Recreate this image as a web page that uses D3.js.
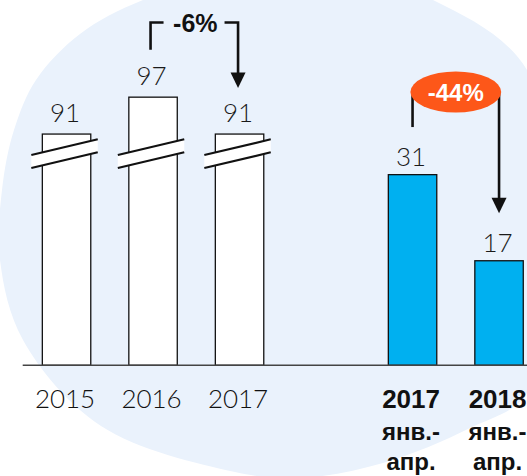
<!DOCTYPE html>
<html>
<head>
<meta charset="utf-8">
<script src="https://cdn.jsdelivr.net/npm/d3@7"></script>
<style>
  html, body { margin: 0; padding: 0; background: #ffffff; }
  svg { display: block; }
</style>
</head>
<body>
<svg id="chart" width="527" height="476"></svg>
<script>
// ---- data ----
const categories = ["2015", "2016", "2017", "2017 янв.-апр.", "2018 янв.-апр."];
const values = [91, 97, 91, 31, 17];
const isBroken = [true, true, true, false, false];
const isPartial = [false, false, false, true, true];
const labelLines = [["2015"], ["2016"], ["2017"], ["2017", "янв.-", "апр."], ["2018", "янв.-", "апр."]];
const changeFrom = ["2016", "2017 янв.-апр."];
const changeTo = ["2017", "2018 янв.-апр."];
const changeLabels = ["-6%", "-44%"];
const breakValue = 53.4; // value hidden by the axis break on the annual bars

// ---- layout ----
const W = 527, H = 476;
const baseY = 365.3;
const svg = d3.select("#chart");

const bandDomain = ["2015", "2016", "2017", "__gap", "2017 янв.-апр.", "2018 янв.-апр."];
const x = d3.scaleBand().domain(bandDomain).range([23.3, 542.3]).paddingInner(0.44).paddingOuter(0.22);
const y = d3.scaleLinear().domain([0, 40]).range([baseY, baseY - 6.15 * 40]);

const data = categories.map((c, i) => ({
  cat: c, v: values[i], broken: isBroken[i], partial: isPartial[i], lines: labelLines[i]
}));
const topY = d => d.broken ? y(d.v - breakValue) : y(d.v);
const cx = c => x(c) + x.bandwidth() / 2;

// background blob (decorative)
const blob = [[288,-40],[433,0],[527,70],[553,230],[527,393],[470,428],[383,463],[300,478],
              [235,472],[101,426],[23,340],[0,260],[2,190],[14,130],[36,80],[80,34],[143,0]];
svg.append("path")
  .attr("d", d3.line().curve(d3.curveCatmullRomClosed.alpha(0.5))(blob))
  .attr("fill", "#EAF2FC");

// bars
svg.selectAll("rect.bar").data(data).enter().append("rect")
  .attr("class", "bar")
  .attr("x", d => x(d.cat))
  .attr("y", d => topY(d))
  .attr("width", x.bandwidth())
  .attr("height", d => baseY - topY(d))
  .attr("fill", d => d.partial ? "#00B0F0" : "#ffffff")
  .attr("stroke", "#111")
  .attr("stroke-width", 1.3);

// axis break marks
const brk = svg.selectAll("g.brk").data(data.filter(d => d.broken)).enter().append("g").attr("class", "brk");
brk.each(function(d) {
  const g = d3.select(this);
  const x0 = x(d.cat) - 11, x1 = x(d.cat) + x.bandwidth() + 7;
  const yl = 155, yr = 139.3, gap = 13;
  g.append("path")
    .attr("d", `M${x0},${yl}L${x1},${yr}L${x1},${yr + gap}L${x0},${yl + gap}Z`)
    .attr("fill", "#ffffff");
  g.append("line").attr("x1", x0).attr("y1", yl).attr("x2", x1).attr("y2", yr)
    .attr("stroke", "#111").attr("stroke-width", 2.2);
  g.append("line").attr("x1", x0).attr("y1", yl + gap).attr("x2", x1).attr("y2", yr + gap)
    .attr("stroke", "#111").attr("stroke-width", 2.2);
});

// baseline
svg.append("line")
  .attr("x1", 22.7).attr("x2", W).attr("y1", baseY).attr("y2", baseY)
  .attr("stroke", "#444").attr("stroke-width", 1.5);

// value labels
const lightFont = "'Century Gothic', Lato, 'Liberation Sans', sans-serif";
svg.selectAll("text.val").data(data).enter().append("text")
  .attr("class", "val")
  .attr("x", d => cx(d.cat) - 1.5)
  .attr("y", d => topY(d) - (d.broken ? 12 : 9))
  .attr("text-anchor", "middle")
  .attr("font-family", lightFont)
  .attr("font-weight", 300)
  .attr("font-size", 26)
  .attr("fill", "#1a1a1a")
  .text(d => d.v);

// category labels
const cat = svg.selectAll("text.cat").data(data).enter().append("text")
  .attr("class", "cat")
  .attr("text-anchor", "middle")
  .attr("fill", "#111");
cat.each(function(d) {
  const t = d3.select(this);
  d.lines.forEach((ln, i) => {
    t.append("tspan")
      .attr("x", cx(d.cat) - 1.5)
      .attr("y", [408, 440, 470][i])
      .attr("font-family", d.partial ? "'Liberation Sans', Arial, sans-serif" : lightFont)
      .attr("font-weight", d.partial ? 700 : 300)
      .attr("font-size", i === 0 ? 26 : 24)
      .text(ln);
  });
});

// change annotations
const lw = 2.6;
function arrowHead(xc, tipY) {
  svg.append("path")
    .attr("d", `M${xc - 7.5},${tipY - 15.5}L${xc + 7.5},${tipY - 15.5}L${xc},${tipY}Z`)
    .attr("fill", "#111");
}
// -6%
(function() {
  const a = data.find(d => d.cat === changeFrom[0]);
  const b = data.find(d => d.cat === changeTo[0]);
  const xa = cx(a.cat) - 2.5, xb = cx(b.cat) - 1.5;
  const ya = topY(a) - 47.3, yb = topY(b) - 46;
  const yTop = ya - 27.3;
  const xm = (xa + xb) / 2;
  svg.append("path")
    .attr("d", `M${xa},${ya}L${xa},${yTop}L${xa + 13},${yTop}`)
    .attr("fill", "none").attr("stroke", "#111").attr("stroke-width", lw);
  svg.append("path")
    .attr("d", `M${xb - 13.5},${yTop}L${xb},${yTop}L${xb},${yb - 14}`)
    .attr("fill", "none").attr("stroke", "#111").attr("stroke-width", lw);
  arrowHead(xb, yb);
  svg.append("text")
    .attr("x", xm + 1).attr("y", yTop + 9.5)
    .attr("text-anchor", "middle")
    .attr("font-family", "'Liberation Sans', Arial, sans-serif")
    .attr("font-weight", 700).attr("font-size", 25)
    .attr("fill", "#111")
    .text(changeLabels[0]);
})();
// -44%
(function() {
  const a = data.find(d => d.cat === changeFrom[1]);
  const b = data.find(d => d.cat === changeTo[1]);
  const xa = cx(a.cat), xb = cx(b.cat);
  const ya = topY(a) - 47.6, yb = topY(b) - 47.6;
  const yE = 92;
  svg.append("line").attr("x1", xa).attr("x2", xa).attr("y1", ya).attr("y2", yE)
    .attr("stroke", "#111").attr("stroke-width", lw);
  svg.append("line").attr("x1", xb).attr("x2", xb).attr("y1", yE).attr("y2", yb - 14)
    .attr("stroke", "#111").attr("stroke-width", lw);
  arrowHead(xb, yb);
  const xm = (xa + xb) / 2;
  svg.append("ellipse").attr("cx", xm).attr("cy", yE).attr("rx", 45.4).attr("ry", 20.5)
    .attr("fill", "#FD5719");
  svg.append("text")
    .attr("x", xm).attr("y", yE + 9)
    .attr("text-anchor", "middle")
    .attr("font-family", "'Liberation Sans', Arial, sans-serif")
    .attr("font-weight", 700).attr("font-size", 24)
    .attr("fill", "#ffffff")
    .text(changeLabels[1]);
})();
</script>
</body>
</html>
